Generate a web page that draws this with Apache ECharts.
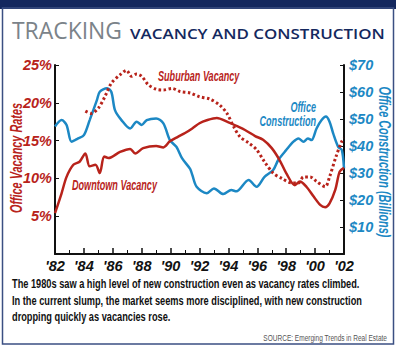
<!DOCTYPE html>
<html>
<head>
<meta charset="utf-8">
<script src="https://cdn.jsdelivr.net/npm/echarts@6/dist/echarts.min.js"></script>
<style>
html,body{margin:0;padding:0;background:#fff;}
#chart{width:396px;height:346px;}
</style>
</head>
<body>
<div id="chart"></div>
<script>
// Years on x
const officeConstruction = [ // $ billions
  [1982.0,47.2],[1982.46,49.6],[1982.8,47.8],[1983.15,41.6],[1983.6,42.8],[1984.0,44.0],
  [1984.4,49.6],[1984.9,57.0],[1985.1,60.1],[1985.6,61.4],[1985.9,60.0],[1986.15,53.3],
  [1986.6,49.6],[1987.2,46.5],[1987.65,49.0],[1988.0,47.8],[1988.35,49.6],[1989.0,50.2],
  [1989.5,48.4],[1989.95,42.2],[1990.4,39.7],[1990.8,35.4],[1991.35,31.5],[1991.5,29.3],
  [1991.8,24.9],[1992.5,22.5],[1993.0,24.3],[1993.65,22.2],[1994.2,23.7],[1994.55,23.2],
  [1995.4,27.4],[1995.95,24.9],[1996.5,28.6],[1997.1,31.1],[1997.45,34.8],[1998.0,38.5],
  [1998.5,41.6],[1998.85,42.8],[1999.2,41.6],[1999.5,42.8],[1999.75,42.2],[2000.1,46.5],
  [2000.45,49.6],[2000.75,50.9],[2001.0,49.0],[2001.25,44.7],[2001.6,39.7],[2001.85,38.5],
  [2002.0,31.7]
];
const downtownVacancy = [ // percent
  [1982.0,5.4],[1982.45,8.0],[1982.8,10.2],[1983.27,11.8],[1983.7,12.2],[1984.1,13.3],
  [1984.4,11.6],[1984.8,11.8],[1985.1,10.7],[1985.4,12.9],[1985.7,12.7],[1986.5,13.5],
  [1987.2,13.9],[1987.55,13.3],[1988.1,14.0],[1989.0,14.3],[1989.5,14.1],[1989.95,14.9],
  [1990.5,15.5],[1991.0,16.0],[1991.5,16.6],[1992.0,17.3],[1992.5,17.7],[1993.2,18.0],
  [1993.9,17.5],[1994.6,16.9],[1995.15,16.4],[1995.85,15.6],[1996.4,15.1],[1997.0,14.0],
  [1997.55,12.4],[1998.0,10.7],[1998.6,9.1],[1998.95,9.6],[1999.4,8.9],[1999.9,7.6],
  [2000.35,6.5],[2000.7,6.2],[2001.0,6.7],[2001.4,8.5],[2001.7,10.9],[2002.0,11.4]
];
const suburbanVacancy = [ // percent
  [1984.1,18.9],[1984.5,18.6],[1985.0,19.3],[1985.45,20.8],[1985.9,22.6],[1986.5,23.7],
  [1986.95,24.3],[1987.3,23.5],[1987.65,23.8],[1988.0,23.5],[1988.45,22.4],[1989.0,21.8],
  [1989.5,21.7],[1990.1,21.9],[1990.65,21.5],[1991.35,21.3],[1992.0,20.8],[1992.7,20.5],
  [1993.4,19.7],[1993.9,18.6],[1994.35,16.9],[1994.8,15.5],[1995.4,14.7],[1995.95,13.8],
  [1996.5,12.2],[1997.1,10.7],[1997.7,10.0],[1998.4,9.4],[1998.85,9.4],[1999.2,10.2],
  [1999.65,10.2],[2000.1,9.6],[2000.7,8.9],[2001.0,10.2],[2001.45,12.9],[2001.85,14.9],
  [2002.0,15.3]
];
const vacancyTicks = [5,10,15,20,25];
const constructionTicks = [10,20,30,40,50,60,70];

const RED = '#b8231b', BLUE = '#1c88c4', NAVY = '#14285e';
const FAM = "'Liberation Sans',Arial,sans-serif";

const mctx = document.createElement('canvas').getContext('2d');
function fitScale(text, font, w){ mctx.font = font; return w / mctx.measureText(text).width; }

const F_AX = "italic bold 16px " + FAM;
const F_ANN = "italic bold 15px " + FAM;
const F_BODY = "bold 13.5px " + FAM;
const F_SRC = "9.5px " + FAM;
const F_T1 = "23px 'Open Sans',sans-serif";
const F_T2 = "600 15px 'Open Sans',sans-serif";

const body1 = 'The 1980s saw a high level of new construction even as vacancy rates climbed.';
const body2 = 'In the current slump, the market seems more disciplined, with new construction';
const body3 = 'dropping quickly as vacancies rose.';
const bodyScale = fitScale(body1, F_BODY, 348);
const annScale = fitScale('Downtown Vacancy', F_ANN, 85);

function txt(x, y, text, font, fill, opts){
  opts = opts || {};
  return {type:'text', x:x, y:y, rotation:opts.rot||0, scaleX:opts.sx||1, silent:true,
    style:{text:text, font:font, fill:fill, textAlign:opts.align||'left', textVerticalAlign:'middle'}};
}

const chart = echarts.init(document.getElementById('chart'), null, {renderer:'svg'});
chart.setOption({
  animation:false,
  backgroundColor:'#fff',
  grid:{left:55,right:52,top:65,bottom:92},
  xAxis:{type:'value',min:1982,max:2002,interval:2,
    axisLine:{lineStyle:{color:'#111',width:2}},
    axisTick:{inside:true,length:6,lineStyle:{color:'#111',width:1.5}},
    minorTick:{show:true,splitNumber:2,length:4,lineStyle:{color:'#111',width:1}},
    splitLine:{show:false},
    axisLabel:{formatter:v=>"'"+String(v).slice(2),color:'#111',fontFamily:FAM,
      fontStyle:'italic',fontWeight:'bold',fontSize:14.5,margin:4}},
  yAxis:[
    {type:'value',min:0,max:25,interval:5,position:'left',
     axisLine:{show:true,lineStyle:{color:'#111',width:2}},
     axisTick:{show:true,inside:true,length:4,lineStyle:{color:'#111'}},
     splitLine:{show:false},
     axisLabel:{formatter:v=>vacancyTicks.includes(v)?v+'%':'',color:RED,fontFamily:FAM,
       fontStyle:'italic',fontWeight:'bold',fontSize:14.5,margin:3}},
    {type:'value',min:0,max:70,interval:10,position:'right',
     axisLine:{show:true,lineStyle:{color:'#111',width:2}},
     axisTick:{show:true,inside:true,length:4,lineStyle:{color:'#111'}},
     splitLine:{show:false},
     axisLabel:{formatter:v=>constructionTicks.includes(v)?'$'+v:'',color:BLUE,fontFamily:FAM,
       fontStyle:'italic',fontWeight:'bold',fontSize:14.5,margin:5}}
  ],
  series:[
    {type:'line',name:'Office Construction',yAxisIndex:1,data:officeConstruction,smooth:0.3,
     showSymbol:false,lineStyle:{color:BLUE,width:2.5}},
    {type:'line',name:'Downtown Vacancy',yAxisIndex:0,data:downtownVacancy,smooth:0.3,
     showSymbol:false,lineStyle:{color:RED,width:2.5}},
    {type:'line',name:'Suburban Vacancy',yAxisIndex:0,data:suburbanVacancy,smooth:0.3,
     showSymbol:false,lineStyle:{color:RED,width:3,type:[2.5,2.5]}}
  ],
  graphic:[
    {type:'rect',shape:{x:0,y:0,width:396,height:9},style:{fill:NAVY},silent:true},
    {type:'rect',shape:{x:2.5,y:8,width:391,height:336},style:{fill:'none',stroke:'#3b4f82',lineWidth:1.5},silent:true},
    txt(12, 30, 'TRACKING', F_T1, '#7b8389', {sx:fitScale('TRACKING', F_T1, 110)}),
    txt(130, 33, 'VACANCY AND CONSTRUCTION', F_T2, NAVY, {sx:fitScale('VACANCY AND CONSTRUCTION', F_T2, 255)}),
    txt(17, 158, 'Office Vacancy Rates', F_AX, RED, {rot:Math.PI/2, align:'center', sx:fitScale('Office Vacancy Rates', F_AX, 110)}),
    txt(384, 162, 'Office Construction (Billions)', F_AX, BLUE, {rot:-Math.PI/2, align:'center', sx:fitScale('Office Construction (Billions)', F_AX, 151)}),
    txt(158, 76, 'Suburban Vacancy', F_ANN, RED, {sx:annScale}),
    txt(72, 185, 'Downtown Vacancy', F_ANN, RED, {sx:annScale}),
    txt(316, 107, 'Office', F_ANN, BLUE, {align:'right', sx:annScale}),
    txt(316, 121, 'Construction', F_ANN, BLUE, {align:'right', sx:annScale}),
    txt(12, 283, body1, F_BODY, '#111', {sx:bodyScale}),
    txt(12, 300, body2, F_BODY, '#111', {sx:bodyScale}),
    txt(12, 316, body3, F_BODY, '#111', {sx:bodyScale}),
    txt(387, 338, 'SOURCE: Emerging Trends in Real Estate', F_SRC, '#555', {align:'right', sx:fitScale('SOURCE: Emerging Trends in Real Estate', F_SRC, 124)})
  ]
});
</script>
</body>
</html>
